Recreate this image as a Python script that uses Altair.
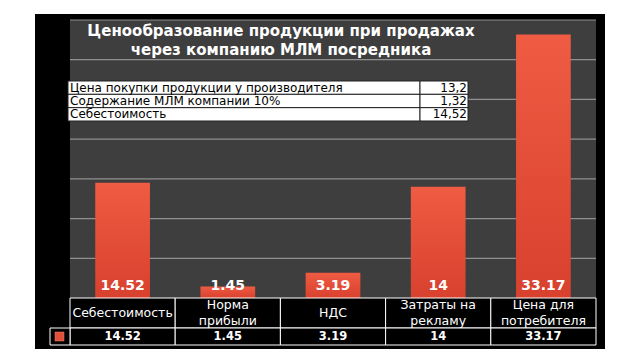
import altair as alt
import pandas as pd

# ---- data ----
categories = ["Себестоимость", "Норма прибыли", "НДС", "Затраты на рекламу", "Цена для потребителя"]
cat_labels = ["Себестоимость", "Норма\nприбыли", "НДС", "Затраты  на\nрекламу", "Цена для\nпотребителя"]
values = [14.52, 1.45, 3.19, 14, 33.17]
value_texts = ["14.52", "1.45", "3.19", "14", "33.17"]
grid_values = [5, 10, 15, 20, 25, 30, 35]
info_labels = ["Цена покупки продукции у производителя", "Содержание МЛМ компании 10%", "Себестоимость"]
info_values = ["13,2", "1,32", "14,52"]
title_lines = ["Ценообразование продукции при продажах", "через компанию МЛМ посредника"]

W, H = 526, 278

df = pd.DataFrame({"cat": categories, "label": cat_labels, "value": values, "vtext": value_texts})
df["nlines"] = df["label"].str.count("\n") + 1
grid_df = pd.DataFrame({"g": grid_values})
info_df = pd.DataFrame({"row": list(range(len(info_labels))), "label": info_labels, "val": info_values})
one = pd.DataFrame({"k": [0]})
title_df = pd.DataFrame({"i": list(range(len(title_lines))), "t": title_lines})

xenc = alt.X("cat:N", sort=categories, axis=None,
             scale=alt.Scale(paddingInner=0, paddingOuter=0))
yscale = alt.Scale(domain=[0, 35], nice=False, zero=True)

red_grad = alt.Gradient(gradient="linear",
                        stops=[alt.GradientStop(color="#ef5b43", offset=0),
                               alt.GradientStop(color="#d8412e", offset=1)],
                        x1=0, x2=0, y1=0, y2=1)

frame = alt.Chart(one).mark_rect(color="black").encode(
    x=alt.value(-35), x2=alt.value(535), y=alt.value(-6), y2=alt.value(329))
plotbg = alt.Chart(one).mark_rect(color="#3e3e3e").encode(
    x=alt.value(0), x2=alt.value(W), y=alt.value(0), y2=alt.value(H))
grid = alt.Chart(grid_df).mark_rule(color="#909090", strokeWidth=1.2).encode(
    y=alt.Y("g:Q", scale=yscale, axis=None), x=alt.value(0), x2=alt.value(W))

bars = alt.Chart(df).mark_bar(width=alt.RelativeBandSize(0.52), color=red_grad).encode(
    x=xenc, y=alt.Y("value:Q", scale=yscale, axis=None))
bar_labels = alt.Chart(df).mark_text(color="white", font="DejaVu Sans", fontWeight="bold",
                                     fontSize=14, baseline="middle").encode(
    x=xenc, y=alt.value(266), text="vtext:N")

title = alt.Chart(title_df).mark_text(color="white", font="DejaVu Sans", fontWeight="bold",
                                      fontSize=15, baseline="middle").encode(
    x=alt.value(211),
    y=alt.Y("i:O", axis=None, scale=alt.Scale(range=[1, 40], paddingInner=0, paddingOuter=0)),
    text="t:N")

# bottom data table
cells1 = alt.Chart(df).mark_rect(fill="black", stroke="white", strokeWidth=1).encode(
    x=xenc, y=alt.value(278), y2=alt.value(308))
cells2 = alt.Chart(df).mark_rect(fill="black", stroke="white", strokeWidth=1).encode(
    x=xenc, y=alt.value(308), y2=alt.value(325))
legcell = alt.Chart(one).mark_rect(fill="black", stroke="white", strokeWidth=1).encode(
    x=alt.value(-20), x2=alt.value(0), y=alt.value(308), y2=alt.value(325))
legkey = alt.Chart(one).mark_rect(color="#e0503a", stroke="#f08070", strokeWidth=0.5).encode(
    x=alt.value(-15), x2=alt.value(-6), y=alt.value(312), y2=alt.value(321))
cat_text1 = alt.Chart(df).transform_filter("datum.nlines == 1").mark_text(
    color="white", font="DejaVu Sans", fontSize=12.5, baseline="middle").encode(
    x=xenc, y=alt.value(293), text="label:N")
cat_text2 = alt.Chart(df).transform_filter("datum.nlines == 2").mark_text(
    color="white", font="DejaVu Sans", fontSize=12.5, lineBreak="\n", lineHeight=16,
    baseline="middle").encode(
    x=xenc, y=alt.value(285), text="label:N")
val_text = alt.Chart(df).mark_text(color="white", font="DejaVu Sans", fontSize=11.5,
                                   fontWeight="bold", baseline="middle").encode(
    x=xenc, y=alt.value(317), text="vtext:N")

# overlay info table
iy = alt.Y("row:O", axis=None, scale=alt.Scale(range=[61, 101], paddingInner=0, paddingOuter=0))
info_cells_l = alt.Chart(info_df).mark_rect(fill="white", stroke="#222", strokeWidth=1).encode(
    y=iy, x=alt.value(-2), x2=alt.value(350))
info_cells_r = alt.Chart(info_df).mark_rect(fill="white", stroke="#222", strokeWidth=1).encode(
    y=iy, x=alt.value(350), x2=alt.value(398))
info_text_l = alt.Chart(info_df).mark_text(color="black", font="DejaVu Sans", fontSize=12,
                                           align="left", baseline="middle").encode(
    y=iy, x=alt.value(0), text="label:N")
info_text_r = alt.Chart(info_df).mark_text(color="black", font="DejaVu Sans", fontSize=12,
                                           align="right", baseline="middle").encode(
    y=iy, x=alt.value(397), text="val:N")

chart = alt.layer(
    frame, plotbg, grid, bars, bar_labels, title,
    cells1, cells2, legcell, legkey, cat_text1, cat_text2, val_text,
    info_cells_l, info_cells_r, info_text_l, info_text_r
).resolve_scale(y="independent").properties(
    width=W, height=H,
    autosize=alt.AutoSizeParams(type="none"),
    padding={"left": 62, "top": 12, "right": 36, "bottom": 54},
    background="white"
).configure_view(stroke=None)

chart.save("out.html", embed_options={"renderer": "svg", "actions": False})
